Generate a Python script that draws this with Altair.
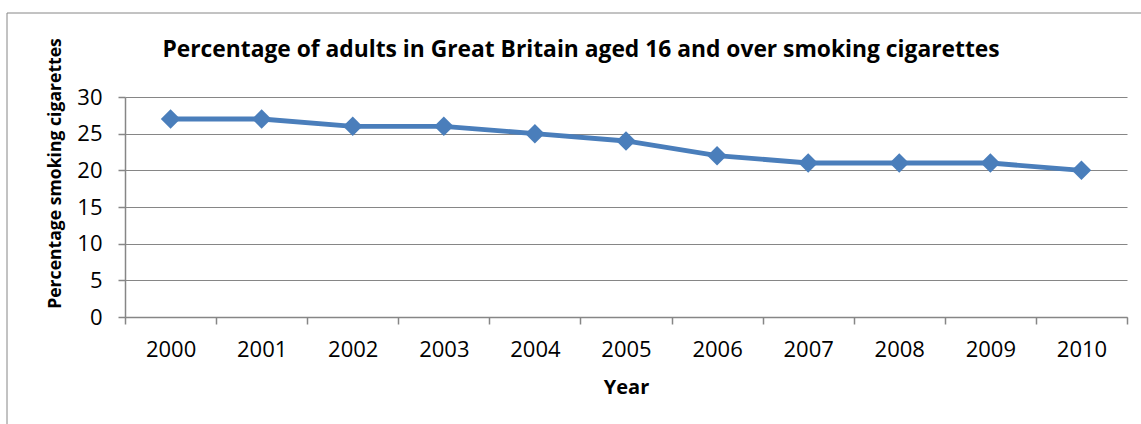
import altair as alt
import pandas as pd

years = ["2000", "2001", "2002", "2003", "2004", "2005", "2006", "2007", "2008", "2009", "2010"]
percent = [27, 27, 26, 26, 25, 24, 22, 21, 21, 21, 20]
y_ticks = [0, 5, 10, 15, 20, 25, 30]

title_text = "Percentage of adults in Great Britain aged 16 and over smoking cigarettes"
x_title = "Year"
y_title = "Percentage smoking cigarettes"

FONT = "Open Sans"
GRAY = "#868686"
BLUE = "#4A7EBB"

df = pd.DataFrame({"Year": years, "Percent": percent})

x_enc = alt.X(
    "Year:N",
    sort=years,
    scale=alt.Scale(type="band", paddingInner=0, paddingOuter=0),
    axis=alt.Axis(
        title=x_title, tickBand="extent", labelAngle=0, labelPadding=15,
        tickSize=7, grid=False, titleX=501, titleY=76, titleBaseline="alphabetic",
        titleAlign="center", titleFontSize=20,
    ),
)
y_enc = alt.Y(
    "Percent:Q",
    scale=alt.Scale(domain=[0, 30], nice=False),
    axis=alt.Axis(
        title=y_title, values=y_ticks, grid=True, tickSize=7, labelPadding=16,
        titleAngle=270, titleX=-70, titleY=76, titleBaseline="middle", titleAlign="center",
        titleFontSize=17.6,
    ),
)

line = alt.Chart(df).mark_line(
    color=BLUE, strokeWidth=4.8,
    point=alt.OverlayMarkDef(shape="diamond", size=380, filled=True, fill=BLUE, opacity=1),
).encode(x=x_enc, y=y_enc)

border = alt.Chart(pd.DataFrame({"k": [0]})).mark_rect(
    fill=None, stroke=GRAY, strokeWidth=1
).encode(
    x=alt.value(-118), x2=alt.value(1200), y=alt.value(-84), y2=alt.value(400)
)

title = alt.Chart(pd.DataFrame({"t": [title_text]})).mark_text(
    font=FONT, fontSize=22.8, fontWeight="bold", color="black", align="center", baseline="alphabetic"
).encode(
    text="t:N", x=alt.value(456), y=alt.value(-40)
)

chart = alt.layer(border, line, title).properties(
    width=1002, height=220,
    autosize=alt.AutoSizeParams(type="none"),
    padding={"left": 125, "top": 97, "right": 14, "bottom": 107},
    background="white",
).configure_view(
    stroke=None
).configure_axis(
    domainColor=GRAY, tickColor=GRAY, gridColor=GRAY, gridOpacity=1, domainWidth=1.5,
    tickWidth=1.5, gridWidth=1.2,
    labelFont=FONT, labelFontSize=22, labelColor="black",
    titleFont=FONT, titleFontWeight="bold", titleColor="black",
)

chart.save("out.html", embed_options={"renderer": "svg", "actions": False})
